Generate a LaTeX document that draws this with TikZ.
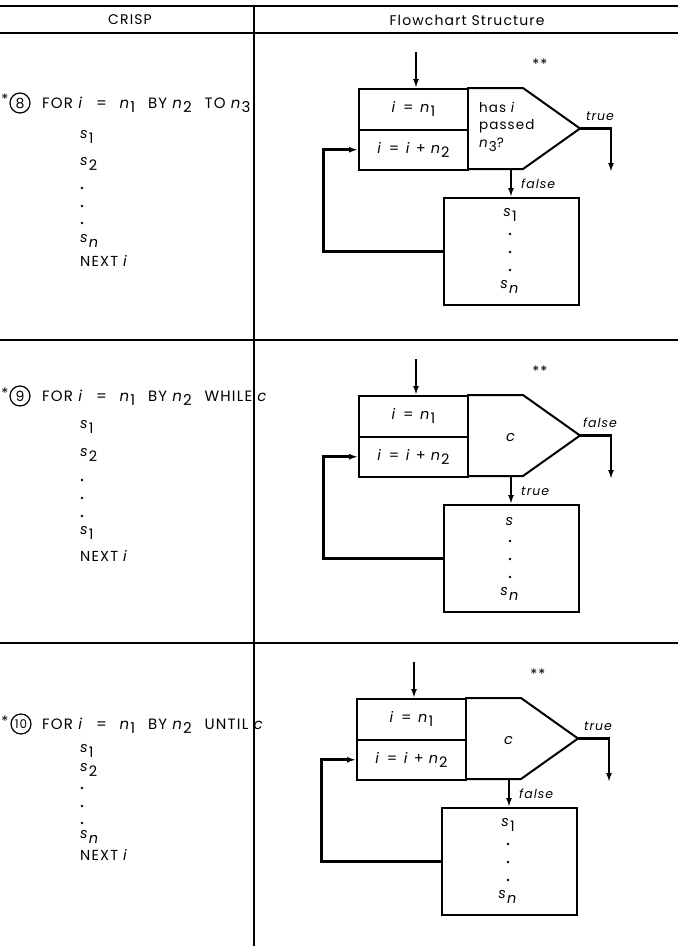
\documentclass[tikz,border=0pt]{standalone}
\usepackage{fontspec}
\setmainfont{Poppins}[LetterSpace=8]
\usetikzlibrary{arrows.meta}
\newcommand\V[1]{\textit{#1}}
\newcommand\lo[1]{\raisebox{-0.55ex}{#1}}
\newcommand\gapsp{\hspace{0.45em}}
\newcommand\wgap{\hspace{0.85em}}
\tikzset{
  rule/.style={line width=2pt},
  boxline/.style={draw, line width=2pt},
  rowbox/.style={boxline, minimum width=109pt, minimum height=40.5pt, inner sep=0pt, anchor=north west, font=\fontsize{14.5}{16}\selectfont},
  bodybox/.style={boxline, minimum width=135pt, minimum height=107pt, inner sep=0pt, anchor=north west},
  flow/.style={line width=2.3pt, -{Latex[length=9pt,width=6pt]}},
  loopflow/.style={line width=3pt, line join=miter, -{Latex[length=9pt,width=6pt]}},
  txt/.style={font=\fontsize{14.5}{16}\selectfont, inner sep=0pt},
  htxt/.style={font=\fontsize{14}{16}\selectfont, inner sep=0pt},
  lefttxt/.style={txt, anchor=west},
  fortxt/.style={anchor=west, inner sep=0pt, font=\fontsize{15}{17}\selectfont},
  lab/.style={font=\fontsize{12.5}{14}\selectfont\itshape, inner sep=0pt},
  circ/.style={draw, circle, line width=1.2pt, minimum size=20pt, inner sep=0pt, font=\fontsize{14}{16}\selectfont},
}
% #1 suffix, #2 decision text, #3 exit label, #4 down label, #5 first body item
\newcommand\FlowPanel[5]{%
  \node[rowbox] (init#1) at (358,88) {\V{i}\gapsp=\gapsp\V{n}\lo{1}};
  \node[rowbox] (incr#1) at (358,128.5) {\V{i}\gapsp=\gapsp\V{i} + \V{n}\lo{2}};
  \coordinate (dA#1) at (467,88);
  \coordinate (dB#1) at (523,88);
  \coordinate (apex#1) at (580,128.5);
  \coordinate (dC#1) at (523,169);
  \coordinate (dD#1) at (467,169);
  \draw[line width=2pt, line join=miter] (dA#1) -- (dB#1) -- (apex#1) -- (dC#1) -- (dD#1);
  #2
  \coordinate (in#1) at (416,52);
  \draw[flow] (in#1) -- (in#1 |- init#1.north);
  \coordinate (exit#1) at (611,172);
  \draw[flow] (apex#1) -| (exit#1);
  \node[lab] (xl#1) at (600,116) {#3};
  \node[bodybox] (body#1) at (443,197) {};
  \coordinate (ds#1) at (511,169);
  \draw[flow] (ds#1) -- (ds#1 |- body#1.north);
  \node[lab, anchor=west] (dl#1) at (521,184) {#4};
  \node[txt] (st#1) at (540,64) {*\kern1pt*};
  \draw[loopflow] (body#1.west) -- ++(-120,0) |- (incr#1.west);
  \node[txt] (bf#1) at (510,215) {#5};
  \fill (510,234) circle (1.4);
  \fill (510,252) circle (1.4);
  \fill (510,270) circle (1.4);
  \node[txt] (bn#1) at (510,287) {\V{s}\lo{\V{n}}};
}
\begin{document}
\begin{tikzpicture}[x=1pt,y=-1pt]
\path[use as bounding box] (0,0) rectangle (678,946);
% table rules
\draw[rule] (0,6) -- (678,6);
\draw[rule] (0,33) -- (678,33);
\draw[rule] (254,6) -- (254,946);
\draw[rule] (0,340) -- (678,340);
\draw[rule] (0,643) -- (678,643);
\node[htxt] (hcrisp) at (130,20) {CRISP};
\node[htxt] (hflow) at (467,20) {Flowchart Structure};

% ---------- panel 1 ----------
\node[txt] (star1) at (5,99) {*};
\node[circ] (c1) at (20,103) {8};
\node[fortxt] (for1) at (42,105) {FOR \V{i}\wgap=\wgap\V{n}\lo{1}\wgap BY \V{n}\lo{2}\wgap TO \V{n}\lo{3}};
\node[lefttxt] (la1) at (80,137) {\V{s}\lo{1}};
\node[lefttxt] (lb1) at (80,164) {\V{s}\lo{2}};
\fill (82,188) circle (1.4);
\fill (82,206) circle (1.4);
\fill (82,223) circle (1.4);
\node[lefttxt] (lc1) at (80,241) {\V{s}\lo{\V{n}}};
\node[lefttxt] (ld1) at (80,261) {NEXT \V{i}};
\FlowPanel{P}{%
  \node[txt, anchor=west, font=\fontsize{13.5}{15}\selectfont] (q1) at (479,107) {has \V{i}};
  \node[txt, anchor=west, font=\fontsize{13.5}{15}\selectfont] (q2) at (479,126) {passed};
  \node[txt, anchor=west, font=\fontsize{13.5}{15}\selectfont] (q3) at (479,145) {\V{n}\lo{3}?};
}{true}{false}{\V{s}\lo{1}}

% ---------- panel 2 ----------
\node[txt] (star2) at (5,393) {*};
\node[circ] (c2) at (20,396) {9};
\node[fortxt] (for2) at (42,398) {FOR \V{i}\wgap=\wgap\V{n}\lo{1}\wgap BY \V{n}\lo{2}\wgap WHILE \V{c}};
\node[lefttxt] (la2) at (80,427) {\V{s}\lo{1}};
\node[lefttxt] (lb2) at (80,455) {\V{s}\lo{2}};
\fill (82,480) circle (1.4);
\fill (82,498) circle (1.4);
\fill (82,516) circle (1.4);
\node[lefttxt] (lc2) at (80,533) {\V{s}\lo{1}};
\node[lefttxt] (ld2) at (80,556) {NEXT \V{i}};
\begin{scope}[shift={(0,307)}]
\FlowPanel{Q}{%
  \node[txt] (qc) at (511,131) {\V{c}};
}{false}{true}{\V{s}}
\end{scope}

% ---------- panel 3 ----------
\node[txt] (star3) at (5,721) {*};
\node[circ] (c3) at (21,724) {\fontsize{12}{13}\selectfont 10};
\node[fortxt] (for3) at (42,726) {FOR \V{i}\wgap=\wgap\V{n}\lo{1}\wgap BY \V{n}\lo{2}\wgap UNTIL \V{c}};
\node[lefttxt] (la3) at (80,751) {\V{s}\lo{1}};
\node[lefttxt] (lb3) at (80,770) {\V{s}\lo{2}};
\fill (82,788) circle (1.4);
\fill (82,806) circle (1.4);
\fill (82,823) circle (1.4);
\node[lefttxt] (lc3) at (80,837) {\V{s}\lo{\V{n}}};
\node[lefttxt] (ld3) at (80,855) {NEXT \V{i}};
\begin{scope}[shift={(-2,610)}]
\FlowPanel{R}{%
  \node[txt] (rc) at (511,131) {\V{c}};
}{true}{false}{\V{s}\lo{1}}
\end{scope}
\end{tikzpicture}
\end{document}
